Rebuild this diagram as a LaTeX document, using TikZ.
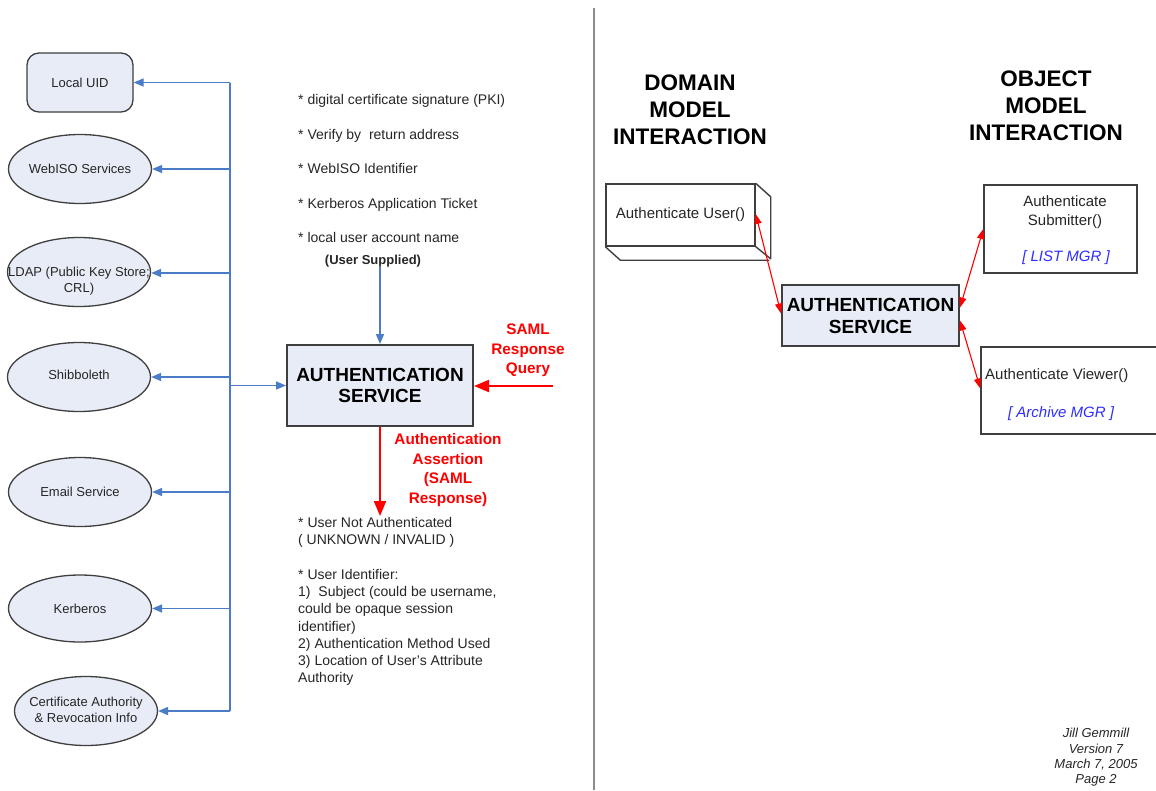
\documentclass[tikz,border=0pt]{standalone}
\usepackage{fontspec}
\setmainfont{Liberation Sans}
\usetikzlibrary{arrows.meta,shapes.geometric}

\definecolor{panelfill}{HTML}{E8ECF6}
\definecolor{edgegray}{HTML}{3F3F3F}
\definecolor{wireblue}{HTML}{4A7CC7}
\definecolor{mgrblue}{HTML}{2E2EFF}
\definecolor{inkgray}{HTML}{262626}
\definecolor{divgray}{HTML}{8C8C8C}
\definecolor{alertred}{HTML}{FF0000}

\newcommand{\pxfont}[2]{\fontsize{#1}{#2}\selectfont}

\begin{document}
\begin{tikzpicture}[x=1pt,y=-1pt,
  source/.style={ellipse, draw=edgegray, line width=1.3pt, fill=panelfill,
    minimum width=143pt, minimum height=69pt, inner sep=0pt},
  srctext/.style={font=\pxfont{13}{16}, text=inkgray, align=center, inner sep=0pt},
  uidbox/.style={rectangle, rounded corners=12pt, draw=edgegray, line width=1.3pt,
    fill=panelfill, minimum width=106pt, minimum height=59pt, inner sep=0pt,
    font=\pxfont{13}{16}, text=inkgray},
  servicebox/.style={rectangle, draw=edgegray, line width=2pt, fill=panelfill,
    inner sep=0pt, align=center, font=\bfseries\pxfont{19}{21.5}, text=black},
  plainbox/.style={rectangle, draw=edgegray, line width=1.4pt, fill=white, inner sep=0pt},
  bodytext/.style={font=\pxfont{14}{17.3}, text=inkgray, align=left, inner sep=0pt},
  boxtext/.style={font=\pxfont{15}{19}, text=inkgray, align=center, inner sep=0pt},
  mgrtext/.style={font=\itshape\pxfont{15}{19}, text=mgrblue, inner sep=0pt},
  heading/.style={font=\bfseries\pxfont{22.5}{27}, text=black, align=center, inner sep=0pt},
  redlabel/.style={font=\bfseries\pxfont{15.3}{19.4}, text=alertred, align=center, inner sep=0pt},
  bluewire/.style={draw=wireblue, line width=1.6pt},
  bluearrow/.style={bluewire, -{Triangle[length=10pt,width=8pt]}},
  redarrow/.style={draw=alertred, line width=2pt, -{Triangle[length=15pt,width=12pt]}},
  redlink/.style={draw=alertred, line width=1.1pt,
    {Triangle[length=10pt,width=7pt]}-{Triangle[length=10pt,width=7pt]}},
  divider/.style={draw=divgray, line width=2pt}
]
\useasboundingbox (0,0) rectangle (1156,790);
\fill[white] (0,0) rectangle (1156,790);

% ---------- identity sources (left column) ----------
\node[uidbox] (uid) at (80,82.5) {Local UID};

\node[source] (webiso) at (80,169) {};
\node[srctext] (webisoT) at (webiso.center) {WebISO Services};

\node[source] (ldap) at (79,272) {};
\node[srctext] (ldapT) at ([yshift=-9pt]ldap.center) {LDAP (Public Key Store;\\CRL)};

\node[source] (shib) at (79,377) {};
\node[srctext] (shibT) at ([yshift=2pt]shib.center) {Shibboleth};

\node[source] (email) at (80,492) {};
\node[srctext] (emailT) at (email.center) {Email Service};

\node[source, minimum height=67pt] (krb) at (80,608.5) {};
\node[srctext] (krbT) at (krb.center) {Kerberos};

\node[source] (ca) at (86,711) {};
\node[srctext] (caT) at ([yshift=1pt]ca.center) {Certificate Authority\\\& Revocation Info};

% ---------- central authentication service ----------
\node[servicebox, minimum width=186pt, minimum height=81pt] (authL) at (380,385.5)
  {AUTHENTICATION\\SERVICE};

% credential list
\node[bodytext, anchor=west, font=\pxfont{14}{34.5}] (creds) at (298,168.5)
  {* digital certificate signature (PKI)\\
   * Verify by\ \ return address\\
   * WebISO Identifier\\
   * Kerberos Application Ticket\\
   * local user account name};
\node[font=\bfseries\pxfont{13}{16}, text=inkgray, inner sep=0pt] (supplied) at (373,261)
  {(User Supplied)};

% result list
\node[bodytext, anchor=west] (results) at (298,601.5)
  {* User Not Authenticated\\
   ( UNKNOWN / INVALID )\\[17.3pt]
   * User Identifier:\\
   1)\ \ Subject (could be username,\\
   could be opaque session\\
   identifier)\\
   2) Authentication Method Used\\
   3) Location of User's Attribute\\
   Authority};

\node[redlabel] (samlQ) at (528,350.5) {SAML\\Response\\Query};
\node[redlabel] (assertL) at (448,470) {Authentication\\Assertion\\(SAML\\Response)};

% blue fan-out from the service to every source
\coordinate (trunkTop) at (230,82.5);
\coordinate (trunkBot) at (230,711);
\draw[bluewire] (trunkTop) -- (trunkBot);
\draw[bluearrow] (uid.east -| trunkTop) -- (uid.east);
\draw[bluearrow] (webiso.east -| trunkTop) -- (webiso.east);
\draw[bluearrow] ([yshift=-1pt]ldap.east -| trunkTop) -- ([yshift=-1pt]ldap.east);
\draw[bluearrow] (shib.east -| trunkTop) -- (shib.east);
\draw[bluearrow] (email.east -| trunkTop) -- (email.east);
\draw[bluearrow] (krb.east -| trunkTop) -- (krb.east);
\draw[bluearrow] (ca.east -| trunkTop) -- (ca.east);
\draw[bluearrow] (authL.west -| trunkTop) -- (authL.west);
\draw[bluearrow] (authL.north |- supplied.south) -- (authL.north);

% red request / response
\coordinate (samlStart) at (553,386);
\coordinate (assertEnd) at (380,516);
\draw[redarrow] (samlStart) -- (samlStart -| authL.east);
\draw[redarrow] (authL.south) -- (assertEnd);

% ---------- divider ----------
\draw[divider] (594,8) -- (594,790);

% ---------- right panel ----------
\node[heading] (domainH) at (690,110) {DOMAIN\\MODEL\\INTERACTION};
\node[heading] (objectH) at (1046,106) {OBJECT\\MODEL\\INTERACTION};

% three-dimensional domain box
\node[plainbox, minimum width=149pt, minimum height=62pt, font=\pxfont{15}{19}, text=inkgray]
  (user) at (680.5,215) {Authenticate User()};
\draw[draw=edgegray, line width=1.4pt, line join=round]
  (user.north east) -- ++(15,13.5) -- ++(0,62) -- (user.south east)
  (user.south west) -- ++(15,13.5) -- ++(149,0);

\node[servicebox, minimum width=177pt, minimum height=61pt, font=\bfseries\pxfont{19}{22}]
  (authR) at (870.5,315.5) {AUTHENTICATION\\SERVICE};

\node[plainbox, minimum width=153pt, minimum height=88pt] (submit) at (1060.5,229) {};
\node[boxtext] (submitT) at (1065,212) {Authenticate\\Submitter()};
\node[mgrtext] (listmgr) at (1066,257.5) {[ LIST MGR ]};

\node[plainbox, minimum width=196pt, minimum height=87pt] (viewer) at (1079,390.5) {};
\node[boxtext, anchor=west] (viewerT) at (985,376) {Authenticate Viewer()};
\node[mgrtext] (archmgr) at (1061,414) {[ Archive MGR ]};

\draw[redlink] ([yshift=1pt]user.east) -- ([yshift=2pt]authR.west);
\draw[redlink] ([yshift=8pt]authR.east) -- (submit.west);
\draw[redlink] ([yshift=-5pt]authR.east) -- ([yshift=2pt]viewer.west);

% ---------- footer ----------
\node[font=\itshape\pxfont{13}{15.3}, text=inkgray, align=center, inner sep=0pt] (footer)
  at (1096,757.5) {Jill Gemmill\\Version 7\\March 7, 2005\\Page 2};
\end{tikzpicture}
\end{document}
